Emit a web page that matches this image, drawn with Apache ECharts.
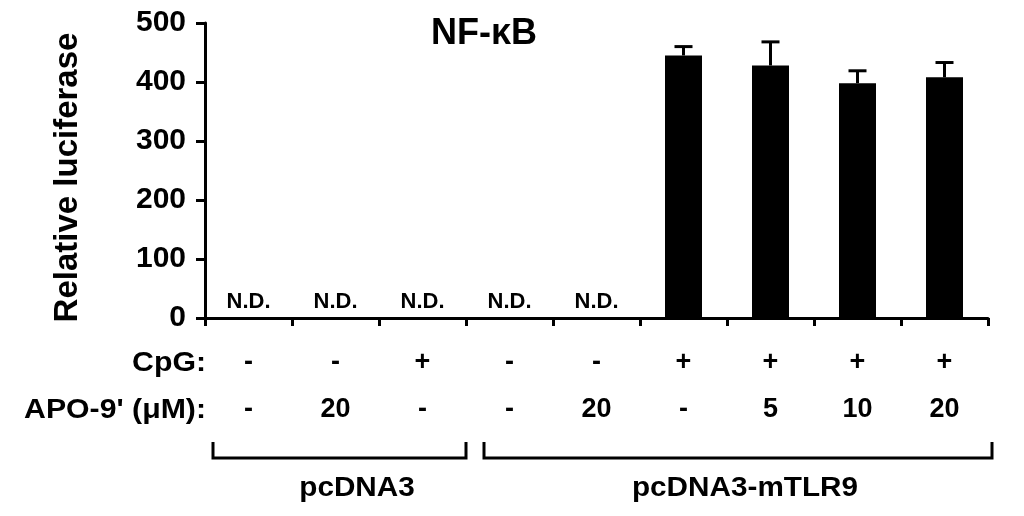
<!DOCTYPE html>
<html>
<head>
<meta charset="utf-8">
<title>NF-kB luciferase</title>
<script src="https://cdn.jsdelivr.net/npm/echarts@6/dist/echarts.min.js"></script>
<style>
  html, body { margin: 0; padding: 0; background: #fff; }
  #chart { width: 1024px; height: 516px; }
</style>
</head>
<body>
<div id="chart"></div>
<script>
// data
var categories = ['1', '2', '3', '4', '5', '6', '7', '8', '9'];
var cpg = ['-', '-', '+', '-', '-', '+', '+', '+', '+'];
var apo = ['-', '20', '-', '-', '20', '-', '5', '10', '20'];
var notDetected = [true, true, true, true, true, false, false, false, false];
var luciferase = [0, 0, 0, 0, 0, 445, 428, 398, 408];
var errUp = [0, 0, 0, 0, 0, 15, 40, 21, 25];
var yTicks = [0, 100, 200, 300, 400, 500];

var FONT = '"Liberation Sans", Arial, sans-serif';

var chart = echarts.init(document.getElementById('chart'));

// bar data, N.D. ones get a label
var barData = luciferase.map(function (v, i) {
    return {
        value: v,
        label: { show: notDetected[i] }
    };
});

// error bars (upper only)
var errData = luciferase.map(function (v, i) {
    return [i, v, v + errUp[i]];
}).filter(function (d) { return errUp[d[0]] > 0; });

var option = {
    animation: false,
    grid: { left: 205, right: 36, top: 23, bottom: 198, containLabel: false },
    xAxis: {
        type: 'category',
        data: categories,
        boundaryGap: true,
        axisLine: { lineStyle: { color: '#000', width: 3 } },
        axisTick: { show: true, inside: false, length: 8, lineStyle: { color: '#000', width: 3 } },
        axisLabel: {
            margin: 21,
            interval: 0,
            color: '#000',
            fontFamily: FONT,
            fontWeight: 'bold',
            fontSize: 27,
            lineHeight: 47,
            formatter: function (val, idx) {
                return cpg[idx] + '\n' + apo[idx];
            }
        },
        splitLine: { show: false }
    },
    yAxis: {
        type: 'value',
        min: yTicks[0],
        max: yTicks[yTicks.length - 1],
        interval: 100,
        name: 'Relative luciferase',
        nameLocation: 'middle',
        nameRotate: 90,
        nameGap: 121,
        nameTextStyle: { color: '#000', fontFamily: FONT, fontWeight: 'bold', fontSize: 33, padding: [0, 14, 0, 0] },
        axisLine: { show: true, lineStyle: { color: '#000', width: 3 } },
        axisTick: { show: true, inside: false, length: 9, lineStyle: { color: '#000', width: 3 } },
        axisLabel: { margin: 19, color: '#000', fontFamily: FONT, fontWeight: 'bold', fontSize: 30 },
        splitLine: { show: false }
    },
    series: [
        {
            type: 'bar',
            data: barData,
            barWidth: 37,
            itemStyle: { color: '#000' },
            label: {
                show: false,
                position: 'top',
                distance: 5,
                formatter: 'N.D.',
                color: '#000',
                fontFamily: FONT,
                fontWeight: 'bold',
                fontSize: 22
            },
            z: 2
        },
        {
            type: 'custom',
            data: errData,
            z: 1,
            renderItem: function (params, api) {
                var x = api.value(0);
                var lo = api.coord([x, api.value(1)]);
                var hi = api.coord([x, api.value(2)]);
                var half = 9;
                return {
                    type: 'group',
                    children: [
                        { type: 'line', shape: { x1: lo[0], y1: lo[1], x2: hi[0], y2: hi[1] }, style: { stroke: '#000', lineWidth: 3 } },
                        { type: 'line', shape: { x1: hi[0] - half, y1: hi[1], x2: hi[0] + half, y2: hi[1] }, style: { stroke: '#000', lineWidth: 3 } }
                    ]
                };
            }
        }
    ],
    graphic: [
        { type: 'text', x: 484, y: 34, style: { text: 'NF-κB', fill: '#000', font: 'bold 36px ' + FONT, textAlign: 'center', textVerticalAlign: 'middle' } },
        { type: 'text', x: 206, y: 364, scaleX: 1.12, style: { text: 'CpG:', fill: '#000', font: 'bold 27px ' + FONT, textAlign: 'right', textVerticalAlign: 'middle' } },
        { type: 'text', x: 206, y: 411, scaleX: 1.12, style: { text: "APO-9' (μM):", fill: '#000', font: 'bold 27px ' + FONT, textAlign: 'right', textVerticalAlign: 'middle' } },
        { type: 'polyline', shape: { points: [[213, 442], [213, 458], [466, 458], [466, 442]] }, style: { stroke: '#000', lineWidth: 3, fill: null } },
        { type: 'polyline', shape: { points: [[484, 442], [484, 458], [992, 458], [992, 442]] }, style: { stroke: '#000', lineWidth: 3, fill: null } },
        { type: 'text', x: 357, y: 489, scaleX: 1.1, style: { text: 'pcDNA3', fill: '#000', font: 'bold 27px ' + FONT, textAlign: 'center', textVerticalAlign: 'middle' } },
        { type: 'text', x: 745, y: 489, scaleX: 1.1, style: { text: 'pcDNA3-mTLR9', fill: '#000', font: 'bold 27px ' + FONT, textAlign: 'center', textVerticalAlign: 'middle' } }
    ]
};

chart.setOption(option);
</script>
</body>
</html>
